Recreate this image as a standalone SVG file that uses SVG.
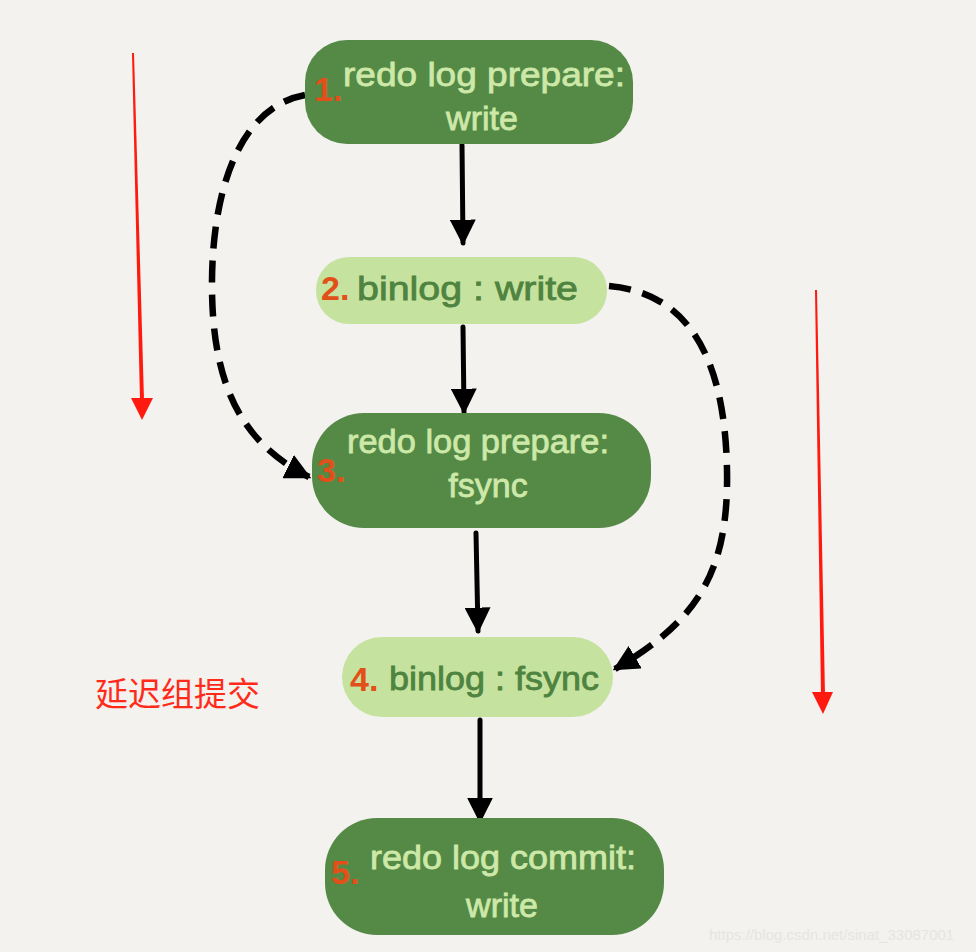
<svg xmlns="http://www.w3.org/2000/svg" width="976" height="952" viewBox="0 0 976 952">
<defs>
<style>
.dark{fill:#548a45}
.light{fill:#c6e29f}
.tl{font-family:"Liberation Sans","DejaVu Sans",sans-serif;font-size:34px;fill:#cde8a8;stroke:#cde8a8;stroke-width:0.8}
.td{font-family:"Liberation Sans","DejaVu Sans",sans-serif;font-size:34px;fill:#4f8340;stroke:#4f8340;stroke-width:0.8}
.num{font-family:"Liberation Sans","DejaVu Sans",sans-serif;font-size:34px;font-weight:bold;fill:#e2501a}
.solid{fill:none;stroke:#000;stroke-width:5;stroke-linecap:round}
.dash{fill:none;stroke:#000;stroke-width:6.5;stroke-dasharray:22 12}
.red{fill:#ff1a10}
</style>
<marker id="ah" viewBox="0 0 10 10" refX="9" refY="5" markerWidth="26" markerHeight="26" markerUnits="userSpaceOnUse" orient="auto">
<path d="M0,0 L10,5 L0,10 Z" fill="#000"/>
</marker>
</defs>
<rect width="976" height="952" fill="#f3f2ef"/>

<g id="connectors">
<path class="solid" d="M462,145 L463,243" marker-end="url(#ah)"/>
<path class="solid" d="M463,327 L464,412" marker-end="url(#ah)"/>
<path class="solid" d="M476,533 L478,631" marker-end="url(#ah)"/>
<path class="solid" d="M480,720 L480,821" marker-end="url(#ah)"/>
<path class="dash" d="M305,95 C235,108 211,200 212,290 C213,390 245,445 309,477" marker-end="url(#ah)"/>
<path class="dash" d="M609,286 C690,293 725,360 727,470 C729,575 695,622 615,669" marker-end="url(#ah)"/>
</g>

<g id="red-arrows">
<polygon class="red" points="132,53 134,53 144,400 140,400"/>
<polygon class="red" points="131,398 153,398 142,420"/>
<polygon class="red" points="815,290 817,290 825,695 821,695"/>
<polygon class="red" points="812,692 833,692 823,714"/>
</g>

<g id="n1">
<rect class="dark" x="305" y="40" width="328" height="104" rx="42"/>
<text class="num" x="314" y="101">1.</text>
<text class="tl" x="343" y="86" textLength="282" lengthAdjust="spacingAndGlyphs">redo log prepare:</text>
<text class="tl" x="482" y="130" text-anchor="middle">write</text>
</g>

<g id="n2">
<rect class="light" x="316" y="257" width="291" height="67" rx="33"/>
<text class="num" x="321" y="300">2.</text>
<text class="td" x="357" y="300" textLength="221" lengthAdjust="spacingAndGlyphs">binlog : write</text>
</g>

<g id="n3">
<rect class="dark" x="312" y="413" width="339" height="115" rx="52"/>
<text class="num" x="317" y="482">3.</text>
<text class="tl" x="347" y="453" textLength="262" lengthAdjust="spacingAndGlyphs">redo log prepare:</text>
<text class="tl" x="488" y="497" text-anchor="middle">fsync</text>
</g>

<g id="n4">
<rect class="light" x="342" y="637" width="271" height="80" rx="40"/>
<text class="num" x="350" y="691">4.</text>
<text class="td" x="389" y="690" textLength="210" lengthAdjust="spacingAndGlyphs">binlog : fsync</text>
</g>

<g id="n5">
<rect class="dark" x="325" y="818" width="339" height="117" rx="52"/>
<text class="num" x="331" y="884">5.</text>
<text class="tl" x="370" y="869" textLength="266" lengthAdjust="spacingAndGlyphs">redo log commit:</text>
<text class="tl" x="502" y="917" text-anchor="middle">write</text>
</g>

<text x="95" y="706" font-family="'Noto Sans CJK SC',sans-serif" font-size="33" fill="#ff2a1a">延迟组提交</text>
<text x="709" y="940" font-family="'Liberation Sans',sans-serif" font-size="15" fill="#e6e5e1">https://blog.csdn.net/sinat_33087001</text>
</svg>
